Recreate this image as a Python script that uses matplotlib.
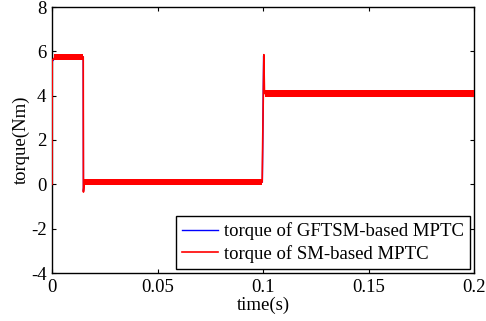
import numpy as np
import matplotlib
matplotlib.use("Agg")
import matplotlib.pyplot as plt

#+++ Data
# mean torque trajectory (breakpoints), s / Nm
t_gftsm = [0.0, 0.0001, 0.0025, 0.0148, 0.0149, 0.0153, 0.0997, 0.1003, 0.1006, 0.2]
T_gftsm = [0.0, 5.55, 5.80, 5.75, -0.30, 0.10, 0.10, 5.80, 4.12, 4.10]
t_sm = [0.0, 0.0001, 0.0025, 0.0148, 0.0149, 0.0153, 0.0996, 0.1004, 0.1007, 0.2]
T_sm = [0.0, 5.60, 5.82, 5.75, -0.35, 0.10, 0.10, 5.85, 4.10, 4.08]

# steady plateaus and the ripple (half band width) seen on each curve
plateau_start = [0.0008, 0.0153, 0.1008]
plateau_end = [0.0147, 0.0996, 0.2]
plateau_level = [5.76, 0.10, 4.10]
ripple_gftsm = [0.14, 0.14, 0.14]
ripple_sm = [0.14, 0.14, 0.14]

xticks = [0, 0.05, 0.1, 0.15, 0.2]
xticklabels = ["0", "0.05", "0.1", "0.15", "0.2"]
yticks = [-4, -2, 0, 2, 4, 6, 8]
#---

plt.rcParams["font.family"] = ["Liberation Serif", "DejaVu Serif"]
plt.rcParams["axes.unicode_minus"] = False
plt.rcParams["xtick.direction"] = "in"
plt.rcParams["ytick.direction"] = "in"

fig = plt.figure(figsize=(4.86, 3.21), dpi=100)
ax = fig.add_axes([52 / 486, 48 / 321, 422 / 486, 266 / 321])

for s, e, lv, rb, rr in zip(plateau_start, plateau_end, plateau_level, ripple_gftsm, ripple_sm):
    ax.fill_between([s, e], lv - rb - 0.01, lv + rb - 0.01, color="blue", lw=0, zorder=1)
    ax.fill_between([s, e], lv - rr, lv + rr, color="red", lw=0, zorder=3)

ax.plot(t_gftsm, T_gftsm, color="blue", lw=1.0, zorder=2, label="torque of GFTSM-based MPTC")
ax.plot(t_sm, T_sm, color="red", lw=1.2, zorder=4, label="torque of SM-based MPTC")

ax.set_xlim(0, 0.2)
ax.set_ylim(-4, 8)
ax.set_xticks(xticks)
ax.set_xticklabels(xticklabels)
ax.set_yticks(yticks)
ax.tick_params(top=True, right=True, labelsize=13.5, length=3, width=0.8, pad=4)
for sp in ax.spines.values():
    sp.set_linewidth(1.0)

ax.set_xlabel("time(s)", fontsize=13.5, labelpad=1)
ax.set_ylabel("torque(Nm)", fontsize=13.5, labelpad=1)

leg = ax.legend(loc="lower right", fontsize=13.5, frameon=True, fancybox=False,
                edgecolor="black", framealpha=1, borderaxespad=0.2,
                handlelength=1.9, handletextpad=0.3, borderpad=0.35, labelspacing=0.25)
leg.get_frame().set_linewidth(1.0)

fig.savefig("out.png", dpi=100)
